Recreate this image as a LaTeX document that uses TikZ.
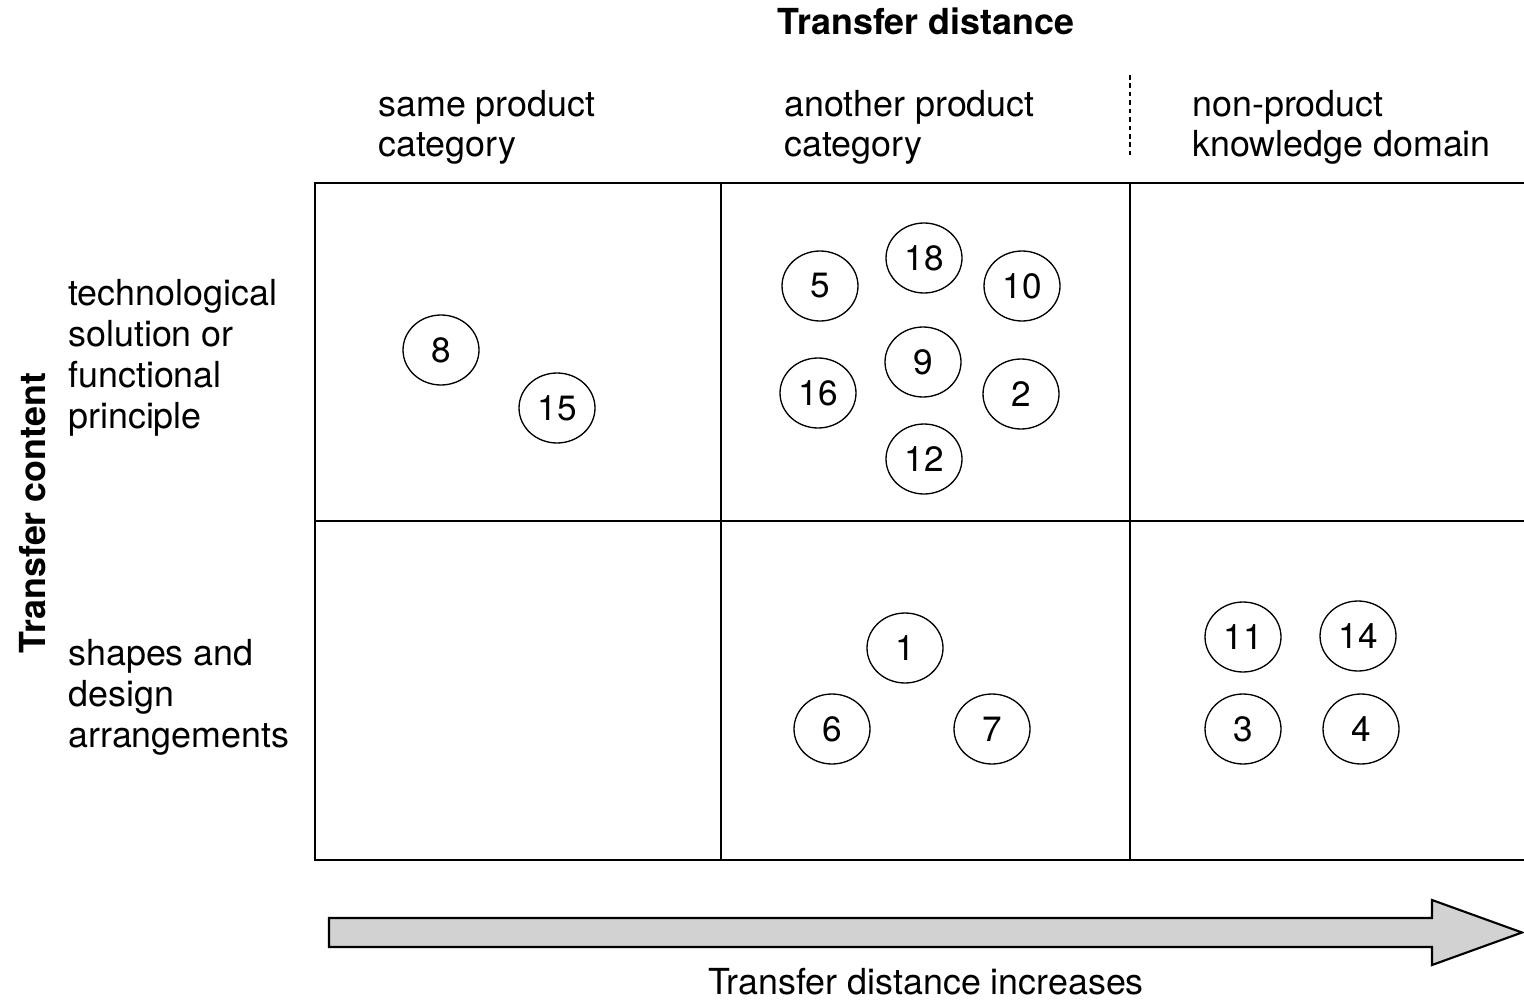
\documentclass[tikz,border=0pt]{standalone}
\usepackage{fontspec}
\setmainfont{TeX Gyre Heros}
\usetikzlibrary{shapes.geometric}
\begin{document}
\begin{tikzpicture}[x=0.02cm,y=-0.02cm,
  txt/.style={font=\fontsize{20.4}{23.2}\selectfont, inner sep=0pt, align=left},
  head/.style={font=\fontsize{20.4}{23.2}\selectfont\bfseries, inner sep=0pt},
  case/.style={ellipse, draw, line width=0.75pt, minimum width=1.52cm, minimum height=1.4cm,
    inner sep=0pt, font=\fontsize{20}{22}\selectfont},
  gridline/.style={line width=1.6pt},
  bigarrow/.style={draw, line width=1.2pt, fill=gray!35, line join=miter}]
\useasboundingbox (0,0) rectangle (1524,1000);

% axis titles
\node[head, anchor=base] (tdist) at (926,35) {Transfer distance};
\node[head, anchor=base, rotate=90] (tcont) at (45,513) {Transfer content};

% column headings (base anchor sits on the last line)
\node[txt, anchor=base west] (c1) at (378,157) {same product\\category};
\node[txt, anchor=base west] (c2) at (784,157) {another product\\category};
\node[txt, anchor=base west] (c3) at (1192,157) {non-product\\knowledge domain};
\coordinate (sepTop) at (1130,75);
\coordinate (sepBot) at (1130,157);
\draw[line width=0.9pt, dash pattern=on 2.6pt off 2.2pt] (sepTop) -- (sepBot);

% row headings
\node[txt, anchor=base west] (r1) at (68,428) {technological\\solution or\\functional\\principle};
\node[txt, anchor=base west] (r2) at (68,747) {shapes and\\design\\arrangements};

% matrix (open on the right)
\draw[gridline] (1524,183) -- (315,183) -- (315,860) -- (1524,860);
\draw[gridline] (315,521) -- (1524,521);
\draw[gridline] (721,183) -- (721,860);
\draw[gridline] (1130,183) -- (1130,860);

% cases: same product category
\node[case] (n8)  at (441,350) {8};
\node[case] (n15) at (557,408) {15};
% cases: another product category, technological
\node[case] (n5)  at (820,286) {5};
\node[case] (n18) at (924,258) {18};
\node[case] (n10) at (1022,286) {10};
\node[case] (n9)  at (923,362) {9};
\node[case] (n16) at (818,393) {16};
\node[case] (n2)  at (1021,394) {2};
\node[case] (n12) at (924,459) {12};
% cases: another product category, shapes
\node[case] (n1)  at (905,648) {1};
\node[case] (n6)  at (832,729) {6};
\node[case] (n7)  at (992,729) {7};
% cases: non-product knowledge domain, shapes
\node[case] (n11) at (1243,637) {11};
\node[case] (n14) at (1358,636) {14};
\node[case] (n3)  at (1243,729) {3};
\node[case] (n4)  at (1361,729) {4};

% distance arrow
\draw[bigarrow] (329,918) -- (1432,918) -- (1432,900) -- (1522,932.5)
  -- (1432,965) -- (1432,947) -- (329,947) -- cycle;
\node[txt, anchor=base] (inc) at (926,994) {Transfer distance increases};
\end{tikzpicture}
\end{document}
